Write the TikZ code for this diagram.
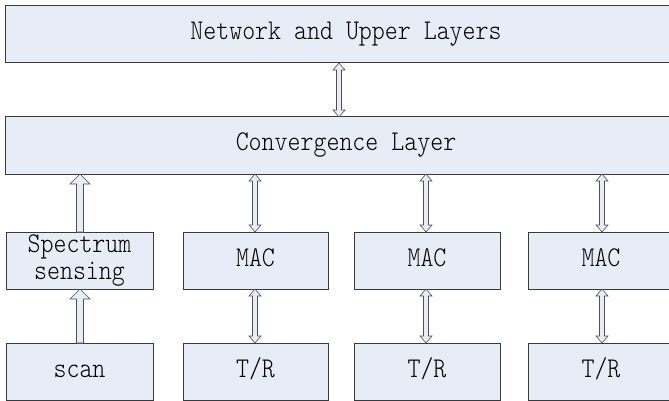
\documentclass[tikz,border=0pt]{standalone}
\usepackage{fontspec}
\setmonofont{Latin Modern Mono Light}
\usetikzlibrary{calc}
\definecolor{boxfill}{HTML}{E7EDF7}
\definecolor{boxline}{HTML}{3A3A3A}
\definecolor{arrline}{HTML}{505050}
\newcommand\lbl[1]{\scalebox{0.95}[1.1]{\ttfamily\fontsize{26}{25}\selectfont\begin{tabular}{@{}c@{}}#1\end{tabular}}}
% double-headed vertical arrow between the bottom of #2 and the top of #3 at x=#1
\newcommand\biarrow[3]{%
  \draw[arr] let \p1=(#2.south), \p2=(#3.north) in
    (#1pt,\y1) -- (#1pt+6pt,\y1-7pt) -- (#1pt+2.5pt,\y1-7pt) -- (#1pt+2.5pt,\y2+7pt)
    -- (#1pt+6pt,\y2+7pt) -- (#1pt,\y2) -- (#1pt-6pt,\y2+7pt) -- (#1pt-2.5pt,\y2+7pt)
    -- (#1pt-2.5pt,\y1-7pt) -- (#1pt-6pt,\y1-7pt) -- cycle;}
% single upward arrow from the top of #3 to the bottom of #2 at x=#1
\newcommand\uparr[3]{%
  \draw[arr] let \p1=(#2.south), \p2=(#3.north) in
    (#1pt,\y1) -- (#1pt+10pt,\y1-10pt) -- (#1pt+3.5pt,\y1-10pt) -- (#1pt+3.5pt,\y2)
    -- (#1pt-3.5pt,\y2) -- (#1pt-3.5pt,\y1-10pt) -- (#1pt-10pt,\y1-10pt) -- cycle;}
\begin{document}
\begin{tikzpicture}[x=1pt,y=-1pt,
  box/.style={draw=boxline, fill=boxfill, line width=1pt, inner sep=0pt, outer sep=0pt,
              minimum height=57pt, font=\ttfamily},
  arr/.style={draw=arrline, fill=boxfill, line width=0.6pt, line join=miter}]
\useasboundingbox (0,0) rectangle (669,401);
\fill[white] (0,0) rectangle (669,401);
\node[box, minimum width=682pt] (net)  at (346,34.5)  {\lbl{Network and Upper Layers}};
\node[box, minimum width=682pt] (conv) at (346,145.5) {\lbl{Convergence Layer}};
\node[box, minimum width=147pt] (ss)   at (79.5,260.5) {\lbl{Spectrum\\sensing}};
\node[box, minimum width=145pt] (mac1) at (255.5,260.5) {\lbl{MAC}};
\node[box, minimum width=146pt] (mac2) at (427,260.5) {\lbl{MAC}};
\node[box, minimum width=146pt] (mac3) at (601,260.5) {\lbl{MAC}};
\node[box, minimum width=147pt] (scan) at (79.5,371.5) {\lbl{scan}};
\node[box, minimum width=145pt] (tr1)  at (255.5,371.5) {\lbl{T/R}};
\node[box, minimum width=146pt] (tr2)  at (427,371.5) {\lbl{T/R}};
\node[box, minimum width=146pt] (tr3)  at (601,371.5) {\lbl{T/R}};
\biarrow{339}{net}{conv}
\uparr{80}{conv}{ss}
\uparr{80}{ss}{scan}
\biarrow{255}{conv}{mac1}
\biarrow{426}{conv}{mac2}
\biarrow{602}{conv}{mac3}
\biarrow{255}{mac1}{tr1}
\biarrow{426}{mac2}{tr2}
\biarrow{602}{mac3}{tr3}
\end{tikzpicture}
\end{document}
